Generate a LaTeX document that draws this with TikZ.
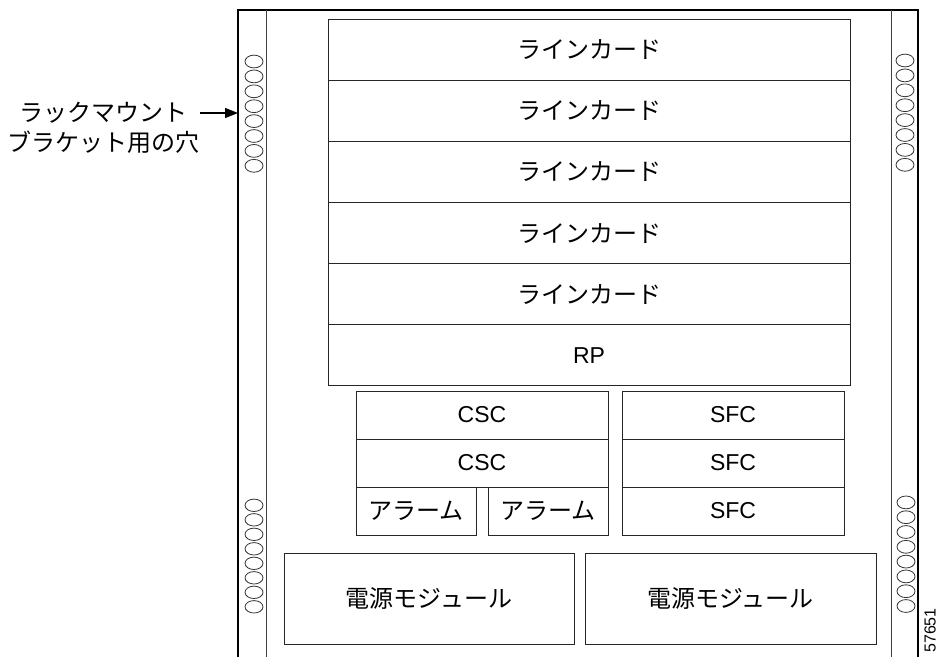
\documentclass[tikz,border=0pt]{standalone}
\usepackage{fontspec}
\setmainfont{Liberation Sans}
\newfontfamily\jp{Noto Sans CJK JP}
\usetikzlibrary{arrows.meta}
\newcommand{\jpt}{\jp\fontsize{24}{30}\selectfont}
\begin{document}
\begin{tikzpicture}[x=1pt,y=-1pt,
  chassis/.style={line width=2.2pt,black},
  rail/.style={line width=1pt,black!75},
  cell/.style={draw=black!85,line width=1pt,inner sep=0pt,outer sep=0pt,
    font=\fontsize{23}{26}\selectfont},
  hole/.style={draw=black!80,line width=0.8pt},
  lbl/.style={font=\jpt,align=center,inner sep=0pt}]
\useasboundingbox (0,0) rectangle (939,657);
% chassis
\draw[chassis] (238,657) -- (238,10) -- (918,10) -- (918,657);
\draw[rail] (266,10) -- (266,657);
\draw[rail] (891,10) -- (891,657);
% holes
\foreach \i in {0,...,7}{
  \draw[hole] (254,{61.5+14.9*\i}) ellipse [x radius=9,y radius=6.4];
  \draw[hole] (905,{60.5+14.9*\i}) ellipse [x radius=9,y radius=6.4];
  \draw[hole] (254,{505.3+14.5*\i}) ellipse [x radius=9,y radius=6.2];
  \draw[hole] (906,{502.4+14.8*\i}) ellipse [x radius=9,y radius=6.4];
}
% line cards + RP
\tikzset{card/.style={cell,minimum width=522pt,minimum height=61.17pt}}
\node[card] (lc1) at (589,49.6) {\jpt ラインカード};
\node[card] (lc2) at (589,110.8) {\jpt ラインカード};
\node[card] (lc3) at (589,171.9) {\jpt ラインカード};
\node[card] (lc4) at (589,233.1) {\jpt ラインカード};
\node[card] (lc5) at (589,294.2) {\jpt ラインカード};
\node[card] (rp) at (589,355.4) {RP};
% CSC / alarms
\node[cell,minimum width=252pt,minimum height=48pt] (csc1) at (482,415) {CSC};
\node[cell,minimum width=252pt,minimum height=48pt] (csc2) at (482,463) {CSC};
\node[cell,minimum width=120pt,minimum height=48pt] (al1) at (416,511) {\jpt アラーム};
\node[cell,minimum width=120pt,minimum height=48pt] (al2) at (548,511) {\jpt アラーム};
% SFC
\node[cell,minimum width=222pt,minimum height=48pt] (sfc1) at (733,415) {SFC};
\node[cell,minimum width=222pt,minimum height=48pt] (sfc2) at (733,463) {SFC};
\node[cell,minimum width=222pt,minimum height=48pt] (sfc3) at (733,511) {SFC};
% power modules
\node[cell,minimum width=290pt,minimum height=91pt] (pm1) at (429,598.5) {\jpt 電源モジュール};
\node[cell,minimum width=291pt,minimum height=91pt] (pm2) at (730.5,598.5) {\jpt 電源モジュール};
% label and arrow
\node[lbl] (label) at (103,128) {ラックマウント\\ブラケット用の穴};
\coordinate (atail) at (200,113);
\coordinate (ahead) at (238,113);
\draw[line width=1.2pt,-{Triangle[length=13pt,width=10pt]}] (atail) -- (ahead);
% figure number
\node[rotate=90,anchor=east,inner sep=0pt,font=\fontsize{16}{18}\selectfont] (fignum) at (930,608) {57651};
\end{tikzpicture}
\end{document}
